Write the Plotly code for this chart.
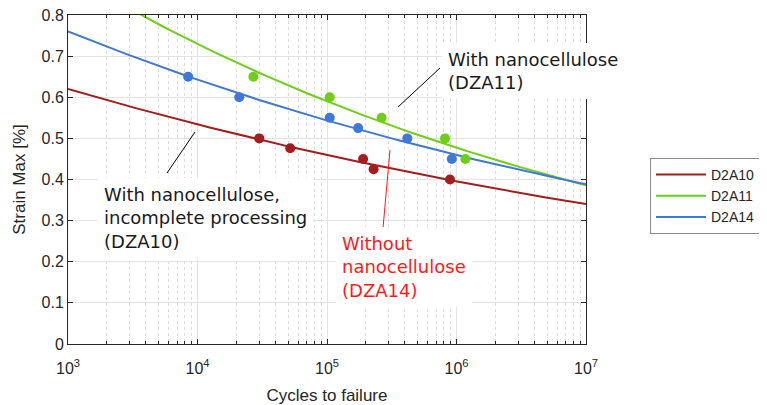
import numpy as np
import plotly.graph_objects as go

# ---- data ----
d2a10_cycles = [30000, 52000, 190000, 229000, 890000]
d2a10_strain = [0.50, 0.476, 0.45, 0.425, 0.40]

d2a11_cycles = [27000, 105000, 264000, 815000, 1170000]
d2a11_strain = [0.65, 0.60, 0.55, 0.50, 0.45]

d2a14_cycles = [8470, 21000, 105000, 174000, 417000, 920000]
d2a14_strain = [0.65, 0.60, 0.55, 0.525, 0.50, 0.45]

series_names = ["D2A10", "D2A11", "D2A14"]
series_colors = ["#a51c1c", "#6fcf17", "#3f78d8"]

x_tick_vals = [1e3, 1e4, 1e5, 1e6, 1e7]
x_tick_text = ["10<sup>3</sup>", "10<sup>4</sup>", "10<sup>5</sup>", "10<sup>6</sup>", "10<sup>7</sup>"]

# ---- plot geometry (screen pixels; page body has an 8px margin) ----
OFF = 8
SW, SH = 767, 405
W, H = SW - OFF, SH - OFF
L, R, T, B = 68, 586, 15, 344
def px(x):
    return (x - L) / (R - L)
def py(y):
    return (B - y) / (B - T)

fig = go.Figure()

data = [(d2a10_cycles, d2a10_strain), (d2a11_cycles, d2a11_strain), (d2a14_cycles, d2a14_strain)]
xfit = np.logspace(3, 7, 200)
for (cx, cy), name, col in zip(data, series_names, series_colors):
    # power-law fit (straight line in log-log space)
    b, a = np.polyfit(np.log10(cx), np.log10(cy), 1)
    yfit = 10 ** (a + b * np.log10(xfit))
    fig.add_trace(go.Scatter(x=xfit, y=yfit, mode="lines", name=name,
                             line=dict(color=col, width=2)))
for (cx, cy), name, col in zip(data, series_names, series_colors):
    fig.add_trace(go.Scatter(x=cx, y=cy, mode="markers", showlegend=False,
                             marker=dict(color=col, size=10), name=name + " data"))

axis_col = "#262626"
grid_col = "#e3e3e3"
tick_font = "Liberation Sans, Arial"
minor_vals = [k * 10 ** d for d in range(3, 7) for k in range(2, 10)]

fig.update_xaxes(type="log", range=[3, 7], tickvals=x_tick_vals, ticktext=x_tick_text,
                 ticks="inside", ticklen=5, tickcolor=axis_col, mirror="ticks",
                 showline=True, linecolor=axis_col, linewidth=1, automargin=False,
                 showgrid=True, gridcolor=grid_col, gridwidth=1, zeroline=False,
                 ticklabelstandoff=10, ticklabeloverflow="allow",
                 tickfont=dict(family=tick_font, size=16, color=axis_col),
                 title=dict(text="Cycles to failure", standoff=17,
                            font=dict(family=tick_font, size=17, color=axis_col)),
                 minor=dict(tickvals=minor_vals, ticks="inside", ticklen=3, tickcolor=axis_col,
                            showgrid=True, gridcolor="#dcdcdc", griddash="dot", gridwidth=1))
fig.update_yaxes(range=[0, 0.8], dtick=0.1, tick0=0,
                 ticks="inside", ticklen=5, tickcolor=axis_col, mirror="ticks",
                 showline=True, linecolor=axis_col, linewidth=1, automargin=False,
                 showgrid=True, gridcolor=grid_col, gridwidth=1, zeroline=False,
                 ticklabeloverflow="allow",
                 tickfont=dict(family=tick_font, size=16, color=axis_col),
                 title=dict(text="Strain Max [%]", standoff=11,
                            font=dict(family=tick_font, size=17, color=axis_col)))

ann_font = "DejaVu Sans, Verdana"
pad = 6
def text_box(text, left, line1_center, color):
    lh = 18 * 1.3
    top = line1_center - lh / 2 - pad - 1
    return dict(xref="paper", yref="paper", x=px(left - pad - 1), y=py(top),
                xanchor="left", yanchor="top", align="left", showarrow=False,
                text=text, bgcolor="white", borderpad=pad, borderwidth=0,
                font=dict(family=ann_font, size=18, color=color))

fig.update_layout(
    width=W, height=H,
    margin=dict(l=L - OFF, r=SW - R, t=T - OFF, b=SH - B, autoexpand=False),
    paper_bgcolor="white", plot_bgcolor="white",
    showlegend=True,
    legend=dict(x=px(650), y=py(158), xanchor="left", yanchor="top",
                bgcolor="white", bordercolor="#8c8c8c", borderwidth=1,
                itemwidth=50, tracegroupgap=0,
                font=dict(family=tick_font, size=14, color=axis_col)),
    annotations=[
        text_box("With nanocellulose<br>(DZA11)", 449, 62, "#1a1a1a"),
        text_box("With nanocellulose,<br>incomplete processing<br>(DZA10)", 105, 197, "#1a1a1a"),
        text_box("Without<br>nanocellulose<br>(DZA14)", 343, 246, "#ff1a1a"),
    ],
    shapes=[
        dict(type="line", xref="paper", yref="paper", x0=px(398), y0=py(107), x1=px(440), y1=py(68),
             line=dict(color="black", width=1)),
        dict(type="line", xref="paper", yref="paper", x0=px(167), y0=py(173), x1=px(195), y1=py(132),
             line=dict(color="black", width=1)),
        dict(type="line", xref="paper", yref="paper", x0=px(383), y0=py(228), x1=px(390), y1=py(150),
             line=dict(color="#ff1a1a", width=1)),
    ],
)

fig.write_html("out.html")
